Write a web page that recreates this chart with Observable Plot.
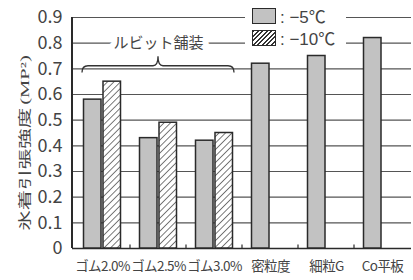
<!DOCTYPE html>
<html><head><meta charset="utf-8">
<script src="https://cdn.jsdelivr.net/npm/d3@7"></script>
<script src="https://cdn.jsdelivr.net/npm/@observablehq/plot@0.6"></script>
<style>
html,body{margin:0;padding:0;background:#fff;}
#chart{position:relative;width:413px;height:280px;}
g[aria-label="x-axis tick label"] text{letter-spacing:-0.6px;}
#legend{position:absolute;left:245px;top:3px;width:101px;height:45px;background:#fff;font-family:"Liberation Sans","Noto Sans CJK JP",sans-serif;font-size:17px;color:#444;}
#legend .row{position:absolute;left:7px;height:16px;display:flex;align-items:center;white-space:nowrap;}
#legend .sw{width:22px;height:14px;border:1.5px solid #2a2a2a;margin-right:4px;flex:none;}
#yaxisline{position:absolute;left:71.25px;top:17px;width:1.5px;height:231px;background:#2a2a2a;}
#ytitle{position:absolute;left:24px;top:142.5px;width:0;height:0;}
#ytitle span{position:absolute;left:0;top:0;white-space:nowrap;transform:translate(-50%,-50%) rotate(-90deg) scale(1,0.62);font-family:"Noto Sans CJK JP",sans-serif;font-size:20.5px;color:#444;line-height:1;}
#ytitle span i{font-style:normal;font-family:"Liberation Serif",serif;margin-left:3px;}
#over{position:absolute;left:0;top:0;pointer-events:none;}
</style>
</head><body><div id="chart"><div id="yaxisline"></div><div id="ytitle"><span></span></div><svg id="over" width="413" height="280"></svg><div id="legend"></div></div>
<script>
const categories = ["ゴム2.0%", "ゴム2.5%", "ゴム3.0%", "密粒度", "細粒G", "Co平板"];
const minus5 = [0.58, 0.43, 0.42, 0.72, 0.75, 0.82];
const minus10 = [0.65, 0.49, 0.45, null, null, null];
const yTicks = [0, 0.1, 0.2, 0.3, 0.4, 0.5, 0.6, 0.7, 0.8, 0.9];
const seriesLabels = [": −5℃", ": −10℃"];
const groupLabel = "ルビット舗装";
const groupMembers = ["ゴム2.0%", "ゴム2.5%", "ゴム3.0%"];
const yTitle = "氷着引張強度";
const yUnit = "(MP²)";

const rows5 = categories.map((c, i) => ({cat: c, v: minus5[i]}));
const rows10 = categories.map((c, i) => ({cat: c, v: minus10[i]})).filter(d => d.v != null);

const INK = "#2a2a2a";
const TXT = "#444";
const GRAY = "#c2c2c2";

function extras(index, scales, values, dims) {
  const g = d3.create("svg:g");
  const defs = g.append("defs");
  const p = defs.append("pattern").attr("id", "hatch").attr("patternUnits", "userSpaceOnUse")
    .attr("width", 4.6).attr("height", 4.6).attr("patternTransform", "rotate(45)");
  p.append("rect").attr("width", 4.6).attr("height", 4.6).attr("fill", "#fff");
  p.append("line").attr("x1", 0).attr("y1", 0).attr("x2", 0).attr("y2", 4.6).attr("stroke", "#333").attr("stroke-width", 1.3);
  return g.node();
}

const chart = Plot.plot({
  width: 413, height: 280,
  marginLeft: 72, marginRight: 2, marginTop: 17, marginBottom: 32,
  style: {fontFamily: "Noto Sans CJK JP, Liberation Sans, sans-serif", background: "#fff", color: "#444"},
  x: {domain: categories, paddingInner: 0, paddingOuter: 0},
  y: {domain: [0, 0.9]},
  marks: [
    Plot.ruleY(yTicks.slice(1), {stroke: "#555", strokeWidth: 1.2}),
    Plot.ruleY([0], {stroke: INK, strokeWidth: 1.5}),
    Plot.barY(rows5, {x: "cat", y: "v", fill: GRAY, stroke: INK, strokeWidth: 1.5, insetLeft: 9.5, insetRight: 29}),
    Plot.barY(rows10, {x: "cat", y: "v", fill: "url(#hatch)", stroke: INK, strokeWidth: 1.5, insetLeft: 29, insetRight: 9.5}),
    Plot.text([groupLabel], {x: () => groupMembers[1], y: () => 0.8, text: d => d, fontSize: 15, fill: "#444", stroke: "#fff", strokeWidth: 12, paintOrder: "stroke"}),
    extras,
    Plot.axisY({ticks: yTicks, tickSize: 0, tickPadding: 10, fontSize: 18, tickFormat: d => d === 0 ? "0" : d.toFixed(1), label: null, fill: "#444"}),
    Plot.axisX({tickSize: 0, tickPadding: 13, fontSize: 13.5, label: null, fill: "#444"})
  ]
});
const host = document.getElementById("chart");
host.insertBefore(chart, host.firstChild);

// y title
const ts = document.querySelector("#ytitle span");
ts.textContent = yTitle;
const unit = document.createElement("i");
unit.textContent = yUnit;
ts.appendChild(unit);

// brace + boundary ticks, positioned through the chart's scales
let xs, ys;
try { const sx = chart.scale("x"), sy = chart.scale("y"); xs = v => sx.apply(v); ys = v => sy.apply(v); xs.bw = sx.bandwidth; } catch (e) {}
if (!xs || xs(categories[0]) == null || isNaN(ys(0))) {
  const bwv = (413 - 2 - 72) / categories.length;
  xs = v => 72 + categories.indexOf(v) * bwv; xs.bw = bwv;
  ys = v => 248 - v * (248 - 17) / 0.9;
}
const bw = xs.bw;
const over = d3.select("#over");
const xl = xs(groupMembers[0]) + 8, xr = xs(groupMembers[2]) + bw - 8;
const xm = xs(groupMembers[1]) + bw / 2;
const yb = ys(0.71), yt = ys(0.747), ye = ys(0.684);
over.append("path").attr("fill", "none").attr("stroke", "#333").attr("stroke-width", 1.3)
  .attr("d", `M${xl},${ye} Q${xl},${yb} ${xl + 6},${yb} L${xm - 5},${yb} Q${xm},${yb} ${xm},${yt} Q${xm},${yb} ${xm + 5},${yb} L${xr - 6},${yb} Q${xr},${yb} ${xr},${ye}`);
categories.slice(0, -1).forEach(c => {
  const xx = xs(c) + bw;
  over.append("line").attr("x1", xx).attr("x2", xx).attr("y1", ys(0)).attr("y2", ys(0) - 3.5).attr("stroke", INK).attr("stroke-width", 1.2);
});

// legend
const leg = document.getElementById("legend");
seriesLabels.forEach((lab, i) => {
  const row = document.createElement("div");
  row.className = "row";
  row.style.top = (i === 0 ? 4.5 : 26.5) + "px";
  const sw = document.createElement("span");
  sw.className = "sw";
  sw.style.background = i === 0 ? GRAY : "repeating-linear-gradient(-45deg,#fff 0 2px,#333 2px 3.2px)";
  row.appendChild(sw);
  const tx = document.createElement("span");
  tx.textContent = lab;
  row.appendChild(tx);
  leg.appendChild(row);
});
</script>
</body></html>
